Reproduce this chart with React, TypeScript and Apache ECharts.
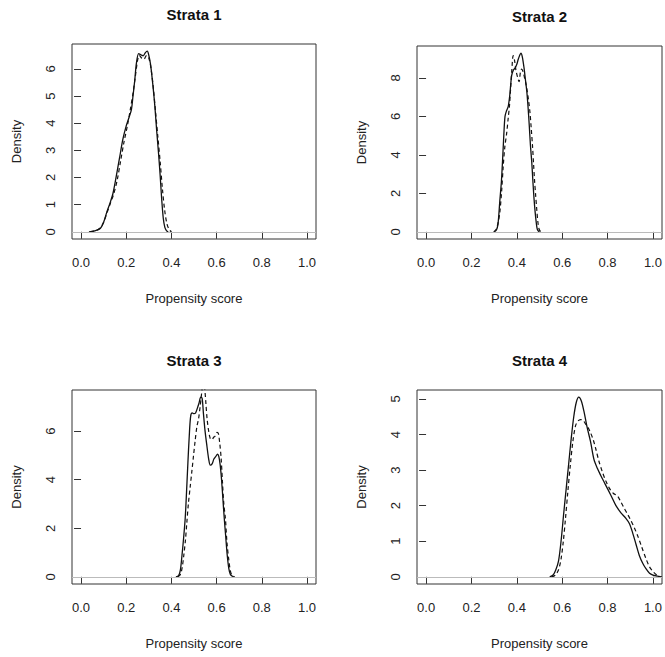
import React, { useEffect, useRef } from "react";
import * as echarts from "echarts";

// ---------- data ----------
const panelTitles = ["Strata 1", "Strata 2", "Strata 3", "Strata 4"];
const xTicks = [0, 0.2, 0.4, 0.6, 0.8, 1.0];
const yTicks1 = [0, 1, 2, 3, 4, 5, 6];
const yTicks2 = [0, 2, 4, 6, 8];
const yTicks3 = [0, 2, 4, 6];
const yTicks4 = [0, 1, 2, 3, 4, 5];

const strata1Solid = [[0.035,0],[0.06,0.03],[0.085,0.12],[0.1,0.35],[0.115,0.75],[0.13,1.1],[0.141,1.4],[0.155,2.0],[0.17,2.7],[0.185,3.4],[0.2,3.9],[0.212,4.2],[0.223,4.5],[0.23,5.0],[0.238,5.6],[0.245,6.2],[0.255,6.56],[0.265,6.52],[0.275,6.48],[0.285,6.6],[0.293,6.65],[0.3,6.5],[0.308,6.15],[0.318,5.4],[0.327,4.6],[0.335,3.7],[0.342,3.0],[0.35,2.1],[0.357,1.2],[0.364,0.5],[0.371,0.16],[0.378,0.04],[0.386,0]];
const strata1Dashed = [[0.04,0],[0.065,0.04],[0.085,0.14],[0.1,0.35],[0.115,0.7],[0.13,1.05],[0.145,1.4],[0.16,1.9],[0.175,2.6],[0.19,3.3],[0.205,3.9],[0.218,4.5],[0.23,5.1],[0.24,5.7],[0.25,6.3],[0.258,6.5],[0.268,6.4],[0.278,6.35],[0.29,6.5],[0.3,6.4],[0.31,6.0],[0.32,5.3],[0.33,4.4],[0.34,3.5],[0.35,2.6],[0.36,1.6],[0.37,0.8],[0.38,0.3],[0.39,0.08],[0.4,0]];

const strata2Solid = [[0.3,0],[0.31,0.1],[0.317,0.4],[0.325,1.6],[0.332,2.6],[0.338,3.9],[0.343,5.1],[0.348,6.0],[0.355,6.3],[0.362,6.5],[0.369,7.1],[0.377,8.1],[0.385,8.4],[0.392,8.5],[0.4,8.7],[0.406,8.95],[0.412,9.15],[0.418,9.28],[0.424,9.1],[0.432,8.5],[0.438,7.9],[0.444,7.3],[0.45,6.4],[0.455,5.5],[0.46,4.5],[0.466,3.6],[0.471,2.6],[0.476,1.7],[0.481,1.0],[0.486,0.45],[0.49,0.15],[0.496,0.02],[0.5,0]];
const strata2Dashed = [[0.298,0],[0.31,0.15],[0.318,0.5],[0.325,1.0],[0.333,2.1],[0.34,3.4],[0.347,4.4],[0.355,5.1],[0.362,5.9],[0.368,6.6],[0.373,7.5],[0.378,8.4],[0.384,9.15],[0.39,8.9],[0.396,8.4],[0.404,8.0],[0.41,7.8],[0.416,8.3],[0.421,8.45],[0.428,8.3],[0.434,8.0],[0.44,7.7],[0.446,7.3],[0.452,6.8],[0.458,6.2],[0.464,5.3],[0.469,4.5],[0.474,3.5],[0.478,2.7],[0.483,1.9],[0.488,1.15],[0.493,0.5],[0.498,0.15],[0.505,0]];

const strata3Solid = [[0.42,0],[0.432,0.05],[0.44,0.3],[0.447,0.9],[0.454,1.6],[0.461,2.4],[0.467,3.5],[0.473,4.7],[0.479,5.8],[0.485,6.6],[0.492,6.75],[0.5,6.72],[0.507,6.75],[0.515,6.95],[0.522,7.15],[0.53,7.4],[0.536,7.35],[0.542,6.7],[0.549,6.0],[0.557,5.4],[0.565,4.85],[0.572,4.6],[0.58,4.65],[0.588,4.85],[0.596,4.95],[0.604,5.05],[0.61,4.95],[0.616,4.6],[0.622,4.0],[0.628,3.2],[0.634,2.4],[0.64,1.7],[0.647,0.9],[0.654,0.35],[0.661,0.1],[0.67,0.02],[0.676,0]];
const strata3Dashed = [[0.428,0],[0.44,0.1],[0.448,0.4],[0.455,0.9],[0.462,1.5],[0.468,2.2],[0.475,3.0],[0.483,3.7],[0.49,4.3],[0.498,5.0],[0.505,5.6],[0.513,6.2],[0.52,6.5],[0.527,7.0],[0.533,7.5],[0.538,7.9],[0.543,8.05],[0.548,7.7],[0.553,7.1],[0.558,6.5],[0.565,6.0],[0.572,5.7],[0.58,5.65],[0.587,5.75],[0.594,5.8],[0.602,5.95],[0.608,5.9],[0.614,5.5],[0.62,4.9],[0.626,3.9],[0.632,3.0],[0.639,2.4],[0.646,1.4],[0.654,0.7],[0.662,0.2],[0.67,0.05],[0.68,0]];

const strata4Solid = [[0.545,0],[0.56,0.05],[0.572,0.2],[0.584,0.45],[0.595,1.0],[0.607,1.8],[0.618,2.5],[0.629,3.2],[0.64,3.9],[0.651,4.5],[0.662,4.9],[0.673,5.05],[0.684,4.95],[0.696,4.65],[0.71,4.2],[0.725,3.8],[0.74,3.3],[0.755,3.05],[0.77,2.85],[0.79,2.6],[0.814,2.3],[0.837,2.0],[0.859,1.8],[0.88,1.65],[0.896,1.5],[0.91,1.25],[0.926,0.9],[0.94,0.6],[0.955,0.38],[0.97,0.22],[0.985,0.1],[1.0,0.05],[1.02,0.02],[1.035,0]];
const strata4Dashed = [[0.553,0],[0.57,0.05],[0.584,0.2],[0.595,0.5],[0.605,1.0],[0.614,1.6],[0.625,2.4],[0.636,3.15],[0.647,3.8],[0.659,4.25],[0.67,4.38],[0.681,4.42],[0.692,4.4],[0.703,4.3],[0.714,4.2],[0.725,4.05],[0.737,3.85],[0.748,3.6],[0.762,3.25],[0.777,2.95],[0.792,2.7],[0.807,2.5],[0.825,2.35],[0.844,2.27],[0.859,2.1],[0.874,1.92],[0.889,1.75],[0.903,1.58],[0.918,1.38],[0.933,1.15],[0.95,0.85],[0.97,0.5],[0.985,0.28],[1.0,0.15],[1.015,0.06],[1.03,0.01],[1.04,0]];

const solidSeries = [strata1Solid, strata2Solid, strata3Solid, strata4Solid];
const dashedSeries = [strata1Dashed, strata2Dashed, strata3Dashed, strata4Dashed];
const yTickSets = [yTicks1, yTicks2, yTicks3, yTicks4];

// ---------- layout ----------
const grids = [
  { left: 72, top: 44, width: 244, height: 195 },
  { left: 417, top: 46, width: 245, height: 193 },
  { left: 72, top: 390, width: 244, height: 194 },
  { left: 417, top: 390, width: 245, height: 194 },
];
const FONT = "'Liberation Sans', Arial, sans-serif";
const TXT = "#222";

export default function App() {
  const ref = useRef<HTMLDivElement>(null);
  useEffect(() => {
    document.body.style.margin = "0";
    const chart = echarts.init(ref.current!, null, { renderer: "svg" });
    const xAxis: any[] = [];
    const yAxis: any[] = [];
    const series: any[] = [];
    const graphic: any[] = [];
    grids.forEach((g, i) => {
      const M = Math.max(...solidSeries[i].map((p) => p[1]));
      xAxis.push({
        type: "value", gridIndex: i, min: -0.04, max: 1.04,
        axisLine: { show: false }, splitLine: { show: false },
        axisTick: { show: true, length: 7, customValues: xTicks, lineStyle: { color: "#333" } },
        axisLabel: { customValues: xTicks, margin: 17, color: TXT, fontSize: 13, fontFamily: FONT,
          formatter: (v: number) => v.toFixed(1) },
      });
      yAxis.push({
        type: "value", gridIndex: i, min: -0.04 * M, max: 1.04 * M,
        axisLine: { show: false }, splitLine: { show: false },
        axisTick: { show: true, length: 7, customValues: yTickSets[i], lineStyle: { color: "#333" } },
        axisLabel: { customValues: yTickSets[i], rotate: 90, margin: 15, color: TXT, fontSize: 13, fontFamily: FONT },
      });
      series.push({
        type: "line", xAxisIndex: i, yAxisIndex: i, data: solidSeries[i], showSymbol: false,
        smooth: 0.3, lineStyle: { color: "#111", width: 1.3, type: "solid" }, clip: true,
        markLine: { silent: true, symbol: "none", label: { show: false },
          lineStyle: { color: "#bbb", type: "solid", width: 1 }, data: [{ yAxis: 0 }] },
        z: 3,
      });
      series.push({
        type: "line", xAxisIndex: i, yAxisIndex: i, data: dashedSeries[i], showSymbol: false,
        smooth: 0.3, lineStyle: { color: "#111", width: 1.2, type: [4, 3] }, clip: true, z: 4,
      });
      const cx = g.left + g.width / 2;
      const cy = g.top + g.height / 2;
      graphic.push({ type: "text", x: cx, y: g.top - 30, style: { text: panelTitles[i], fill: "#111",
        font: `bold 15px ${FONT}`, textAlign: "center", textVerticalAlign: "middle" } });
      graphic.push({ type: "text", x: cx, y: g.top + g.height + 59, style: { text: "Propensity score", fill: TXT,
        font: `13px ${FONT}`, textAlign: "center", textVerticalAlign: "middle" } });
      graphic.push({ type: "text", x: g.left - 56, y: cy, rotation: Math.PI / 2, style: { text: "Density", fill: TXT,
        font: `13px ${FONT}`, textAlign: "center", textVerticalAlign: "middle" } });
    });
    chart.setOption({
      animation: false,
      backgroundColor: "#fff",
      grid: grids.map((g) => ({ ...g, show: true, borderColor: "#333", borderWidth: 1, backgroundColor: "transparent", containLabel: false })),
      xAxis, yAxis, series, graphic,
    });
    return () => chart.dispose();
  }, []);
  return <div ref={ref} style={{ width: 665, height: 657, position: "absolute", left: 0, top: 0 }} />;
}
